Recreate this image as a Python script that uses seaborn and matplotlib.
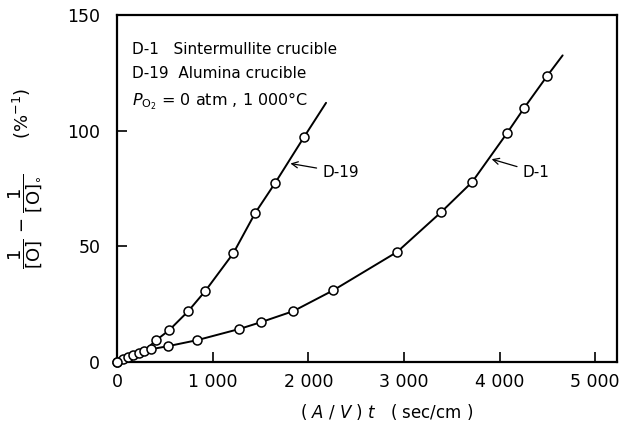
import matplotlib
matplotlib.use("Agg")
import matplotlib.pyplot as plt
import seaborn as sns
import pandas as pd

# D-19 (alumina crucible) measured points
d19_x = [0, 65, 120, 170, 225, 285, 411, 546, 745, 923, 1216, 1445, 1654, 1957]
d19_y = [0, 1.3, 2.2, 3.0, 3.9, 4.8, 9.5, 13.8, 22.0, 30.7, 47.0, 64.4, 77.4, 97.3]
# D-1 (sintermullite crucible) measured points
d1_x = [0, 360, 536, 840, 1279, 1509, 1843, 2261, 2930, 3390, 3714, 4080, 4258, 4498]
d1_y = [0, 5.6, 6.9, 9.5, 14.3, 17.3, 22.0, 31.0, 47.6, 64.8, 77.8, 99.0, 109.8, 123.6]
# curve end points (line extends past last marker)
d19_end = (2186, 112.0)
d1_end = (4660, 132.5)

x_ticks = [0, 1000, 2000, 3000, 4000, 5000]
x_tick_labels = ["0", "1 000", "2 000", "3 000", "4 000", "5 000"]
y_ticks = [0, 50, 100, 150]
y_tick_labels = ["0", "50", "100", "150"]

sns.set_style("ticks")
plt.rcParams["font.family"] = ["DejaVu Sans"]
plt.rcParams["mathtext.fontset"] = "dejavusans"
for k in ["text.color", "axes.labelcolor", "xtick.color", "ytick.color"]:
    plt.rcParams[k] = "black"

fig = plt.figure(figsize=(6.19, 4.25), dpi=100)
ax = fig.add_axes([0.189, 0.148, 0.808, 0.817])

line19 = pd.DataFrame({"x": d19_x + [d19_end[0]], "y": d19_y + [d19_end[1]]})
line1 = pd.DataFrame({"x": d1_x + [d1_end[0]], "y": d1_y + [d1_end[1]]})
sns.lineplot(data=line19, x="x", y="y", sort=False, estimator=None, color="black", lw=1.4, ax=ax)
sns.lineplot(data=line1, x="x", y="y", sort=False, estimator=None, color="black", lw=1.4, ax=ax)

pts = pd.DataFrame({"x": d19_x + d1_x, "y": d19_y + d1_y})
sns.scatterplot(data=pts, x="x", y="y", marker="o", s=42, facecolor="white",
                edgecolor="black", linewidth=1.1, ax=ax, zorder=5, clip_on=False)

ax.set_xlim(0, 5230)
ax.set_ylim(0, 150)
ax.set_xticks(x_ticks)
ax.set_xticklabels(x_tick_labels)
ax.set_yticks(y_ticks)
ax.set_yticklabels(y_tick_labels)
ax.tick_params(axis="both", direction="in", length=7, width=1.2, labelsize=12.5)
ax.tick_params(axis="x", pad=8)
ax.tick_params(axis="y", pad=12)
for s in ax.spines.values():
    s.set_linewidth(1.6)
    s.set_color("black")

ax.set_xlabel(r"( $A$ / $V$ ) $t$   ( sec/cm )", fontsize=12)
ax.xaxis.set_label_coords(0.54, -0.115)
ax.set_ylabel(r"$\dfrac{1}{[\mathrm{O}]}$ $-$ $\dfrac{1}{[\mathrm{O}]_{\circ}}$      (%$^{-1}$)",
              fontsize=13)
ax.yaxis.set_label_coords(-0.144, 0.53)

ax.text(0.03, 0.90, "D-1   Sintermullite crucible", transform=ax.transAxes, fontsize=11, va="center")
ax.text(0.03, 0.83, "D-19  Alumina crucible", transform=ax.transAxes, fontsize=11, va="center")
ax.text(0.03, 0.752, r"$P_{\mathrm{O_2}}$ = 0 atm , 1 000°C", transform=ax.transAxes, fontsize=11.5, va="center")

ax.annotate("D-19", xy=(1785, 86), xytext=(2150, 82), fontsize=11,
            arrowprops=dict(arrowstyle="->", color="black", lw=0.9), va="center")
ax.annotate("D-1", xy=(3890, 88), xytext=(4245, 82), fontsize=11,
            arrowprops=dict(arrowstyle="->", color="black", lw=0.9), va="center")

fig.savefig("out.png", dpi=100)
